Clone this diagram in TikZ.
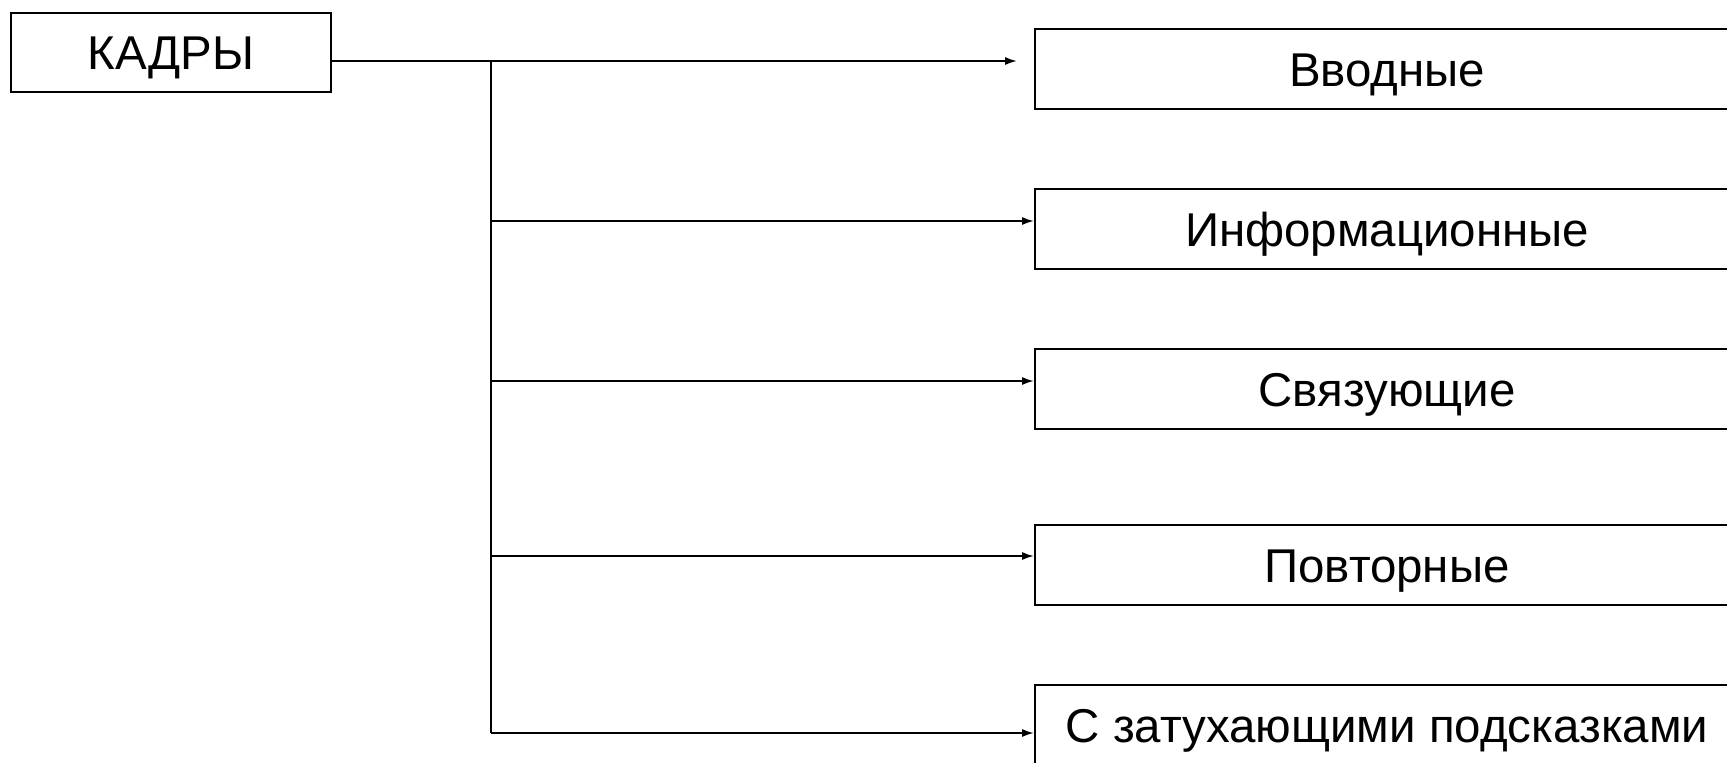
\documentclass[tikz,border=0pt]{standalone}
\usepackage{fontspec}
\setmainfont{Liberation Sans}
\usetikzlibrary{arrows.meta,%
                shapes,positioning}

\tikzset{
  head/.style={draw, line width=1.2pt, minimum width=6.4cm, minimum height=1.58cm, inner sep=0pt, text height=0.69cm, text depth=0pt},
  kind/.style={draw, line width=1.2pt, minimum width=14.08cm, minimum height=1.6cm, inner sep=0pt, text height=0.69cm, text depth=0pt},
  link/.style={line width=1.1pt},
  feed/.style={line width=1.1pt, -{Latex[length=6.8pt,width=4.6pt]}}
}

\begin{document}
\begin{tikzpicture}[x=0.02cm,y=-0.02cm,font=\fontsize{27}{32}\selectfont]
\clip (0,0) rectangle (1727,762);
\node[head] (kadry) at (171,52.5) {КАДРЫ};
\node[kind] (vvod) at (1387,69) {Вводные};
\node[kind] (info) at (1387,229) {Информационные};
\node[kind] (svyaz) at (1387,389) {Связующие};
\node[kind] (povt) at (1387,565) {Повторные};
\node[kind] (zatuh) at (1387,725) {С затухающими подсказками};

\coordinate (t1) at (491,61);
\coordinate (t2) at (491,221);
\coordinate (t3) at (491,381);
\coordinate (t4) at (491,556);
\coordinate (t5) at (491,733);

\draw[link] (kadry.east |- t1) -- (t1);
\draw[link] (t1) -- (t5);
\draw[feed, shorten >=0.34cm] (t1) -- (t1 -| vvod.west);
\draw[feed] (t2) -- (t2 -| info.west);
\draw[feed] (t3) -- (t3 -| svyaz.west);
\draw[feed] (t4) -- (t4 -| povt.west);
\draw[feed] (t5) -- (t5 -| zatuh.west);
\end{tikzpicture}
\end{document}
